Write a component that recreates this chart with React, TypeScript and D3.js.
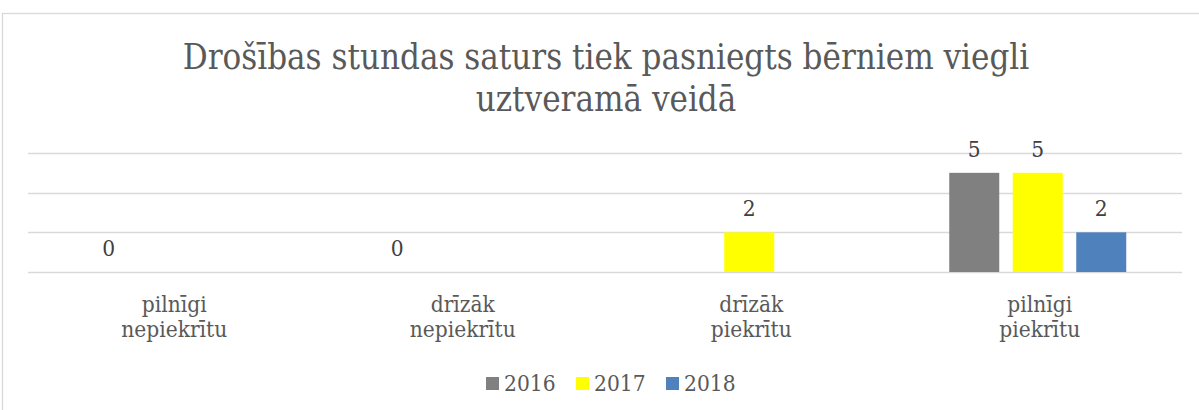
import React from "react";
import * as d3 from "d3";

const categories = ["pilnīgi nepiekrītu", "drīzāk nepiekrītu", "drīzāk piekrītu", "pilnīgi piekrītu"];
const categoryLines = [
  ["pilnīgi", "nepiekrītu"],
  ["drīzāk", "nepiekrītu"],
  ["drīzāk", "piekrītu"],
  ["pilnīgi", "piekrītu"],
];
const seriesNames = ["2016", "2017", "2018"];
const values2016: (number | null)[] = [0, 0, null, 5];
const values2017: (number | null)[] = [null, null, 2, 5];
const values2018: (number | null)[] = [null, null, null, 2];
const seriesColors = ["#808080", "#FFFF00", "#4F81BD"];
const yTicks = [0, 2, 4, 6];
const titleLines = ["Drošības stundas saturs tiek pasniegts bērniem viegli", "uztveramā veidā"];

const W = 1199;
const H = 410;
const FONT = "'DejaVu Serif Condensed', 'DejaVu Serif', serif";

export default function App() {
  const seriesValues = [values2016, values2017, values2018];
  const x = d3.scaleBand<string>().domain(categories).range([28, 1182]).padding(0);
  const y = d3.scaleLinear().domain([0, 6]).range([272, 153]);
  const groupWidth = 177;
  const xSub = d3
    .scaleBand<string>()
    .domain(seriesNames)
    .range([0, groupWidth])
    .paddingInner(0.2126)
    .paddingOuter(0);

  return (
    <div style={{ position: "absolute", left: 0, top: 0 }}>
      <svg width={W} height={H} style={{ display: "block" }}>
        <rect x={0} y={0} width={W} height={H} fill="#fff" />
        <rect x={2.5} y={13.5} width={W + 20} height={H + 20} fill="none" stroke="#D9D9D9" strokeWidth={1.3} />
        {titleLines.map((t, i) => (
          <text
            key={i}
            x={606}
            y={69 + i * 42}
            textAnchor="middle"
            fontFamily={FONT}
            fontSize={34.6}
            fill="#595959"
          >
            {t}
          </text>
        ))}
        {yTicks.map((t) => (
          <line
            key={t}
            x1={28}
            x2={1182}
            y1={Math.round(y(t)) + 0.5}
            y2={Math.round(y(t)) + 0.5}
            stroke="#D9D9D9"
            strokeWidth={1.3}
          />
        ))}
        {categories.map((c, ci) => {
          const cx = (x(c) as number) + x.bandwidth() / 2;
          const g0 = cx - groupWidth / 2;
          return (
            <g key={c}>
              {seriesNames.map((s, si) => {
                const v = seriesValues[si][ci];
                if (v === null) return null;
                const bx = g0 + (xSub(s) as number);
                return (
                  <g key={s}>
                    <rect x={bx} y={y(v)} width={xSub.bandwidth()} height={y(0) - y(v)} fill={seriesColors[si]} />
                    <text
                      x={bx + xSub.bandwidth() / 2}
                      y={y(v) - 16}
                      textAnchor="middle"
                      fontFamily={FONT}
                      fontSize={22.5}
                      fill="#404040"
                    >
                      {v}
                    </text>
                  </g>
                );
              })}
              {categoryLines[ci].map((ln, li) => (
                <text
                  key={li}
                  x={cx + 2}
                  y={312 + li * 25}
                  textAnchor="middle"
                  fontFamily={FONT}
                  fontSize={22.5}
                  fill="#595959"
                >
                  {ln}
                </text>
              ))}
            </g>
          );
        })}
        {seriesNames.map((s, si) => {
          const lx = [486, 576, 666][si];
          return (
            <g key={s}>
              <rect x={lx} y={377} width={13} height={13} fill={seriesColors[si]} />
              <text x={lx + 18} y={391} fontFamily={FONT} fontSize={22.5} fill="#595959">
                {s}
              </text>
            </g>
          );
        })}
      </svg>
    </div>
  );
}
